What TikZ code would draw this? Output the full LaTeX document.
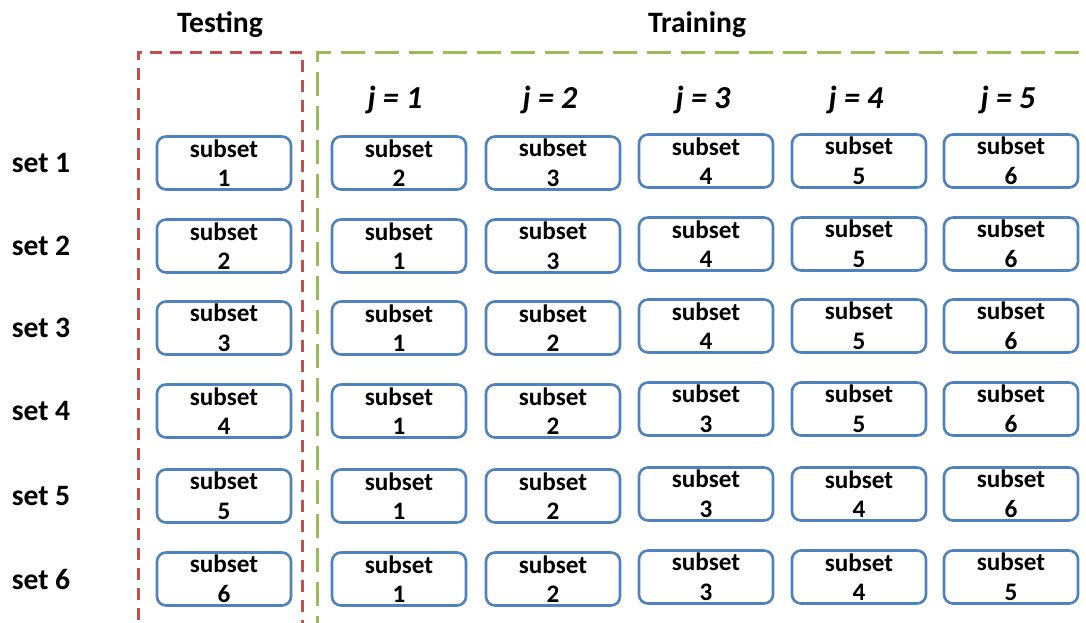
\documentclass[tikz,border=0pt]{standalone}
\usepackage{fontspec}
\setmainfont{Carlito}
\definecolor{boxblue}{RGB}{79,129,189}
\definecolor{testred}{RGB}{192,80,77}
\definecolor{traingreen}{RGB}{155,187,89}
\begin{document}
\begin{tikzpicture}[x=0.5pt,y=-0.5pt,
	subsetbox/.style={draw=boxblue, line width=1.3pt, rounded corners=4.5pt, minimum width=67pt, minimum height=26.5pt, inner sep=0pt, align=center, font=\fontsize{12.6}{14.8}\selectfont\bfseries},
	setlabel/.style={font=\fontsize{14.8}{16}\selectfont\bfseries},
	jlabel/.style={font=\fontsize{16}{18}\selectfont\bfseries\itshape},
	header/.style={font=\fontsize{14.8}{16}\selectfont\bfseries}]
	\useasboundingbox (0,0) rectangle (1086,622);
	% dashed frames, open below and to the right
	\begin{scope}
		\clip (0,0) rectangle (1086,622);
		\draw[testred, line width=1.5pt, dash pattern=on 6pt off 4pt] (138,640) -- (138,52) -- (302,52) -- (302,640);
		\draw[traingreen, line width=1.5pt, dash pattern=on 12pt off 5pt] (317,640) -- (317,52) -- (1110,52);
	\end{scope}
	\node[header] (testing) at (220,25) {Testing};
	\node[header] (training) at (697,25) {Training};
	\foreach \j/\x in {1/395,2/550,3/703,4/856,5/1008}
		\node[jlabel] (j\j) at (\x,100) {j = \j};
	\foreach \s/\y in {1/163,2/246,3/328,4/411,5/496,6/579}{
		\node[setlabel] (set\s) at (41,\y) {set \s};
		\node[subsetbox] (test\s) at (224,\y) {subset\\\s};
		\foreach \j/\x in {1/399,2/553,3/706,4/859,5/1011}{
			\pgfmathtruncatemacro{\k}{\j<\s ? \j : \j+1}
			\pgfmathsetmacro{\dy}{\j>2 ? -2 : 0}
			\node[subsetbox] (train\s-\j) at (\x,\y+\dy) {subset\\\k};
		}
	}
\end{tikzpicture}
\end{document}
